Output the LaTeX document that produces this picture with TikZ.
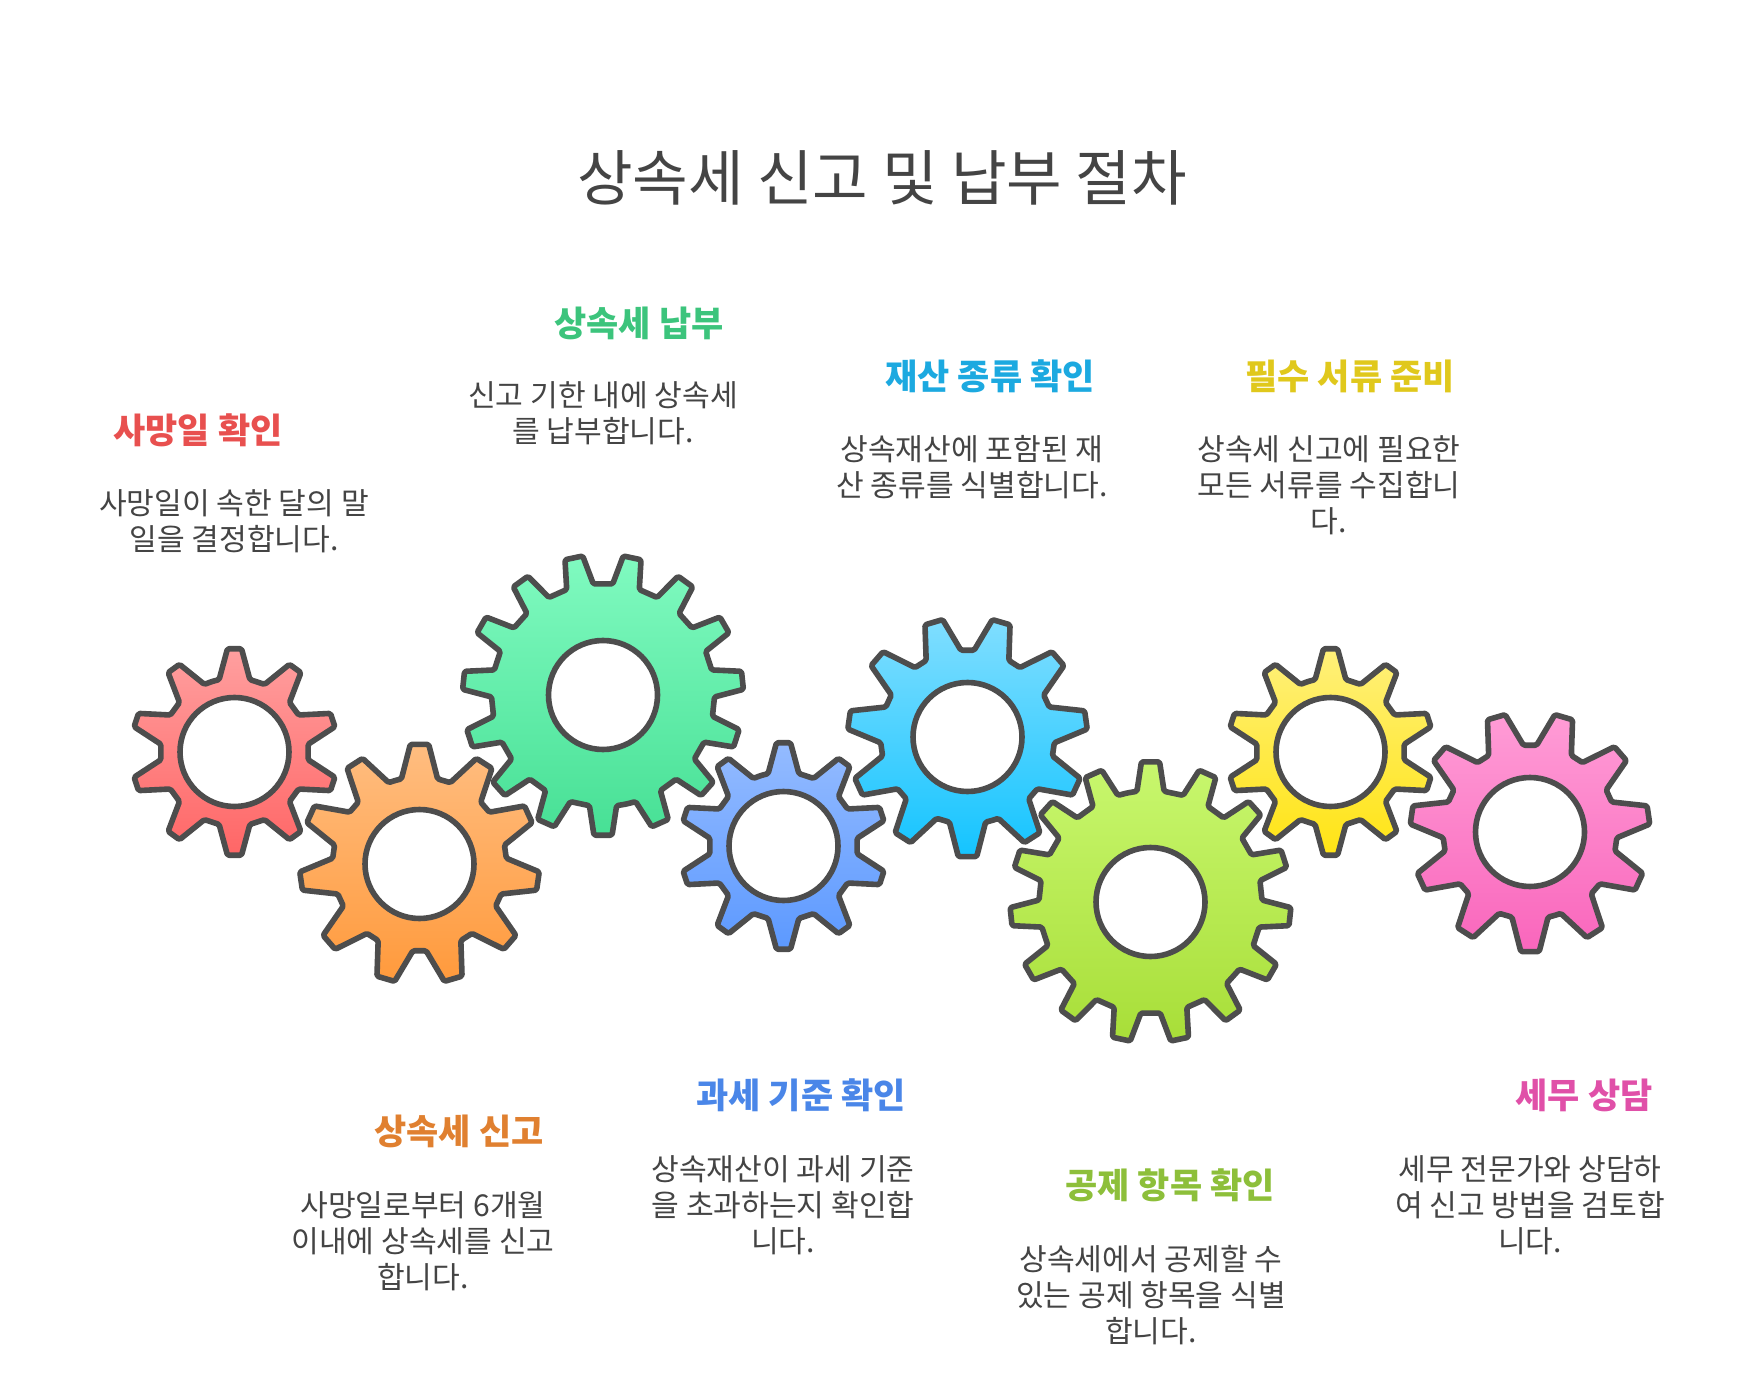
\documentclass[tikz,border=0pt]{standalone}
\usepackage{fontspec}
\setmainfont{Noto Sans CJK KR}
\usetikzlibrary{positioning}

\definecolor{gearline}{HTML}{4D4D4D}
\definecolor{redtop}{HTML}{FF9F9F}
\definecolor{redbot}{HTML}{FF6666}
\definecolor{orangetop}{HTML}{FFBD80}
\definecolor{orangebot}{HTML}{FF9A3C}
\definecolor{greentop}{HTML}{80FAC0}
\definecolor{greenbot}{HTML}{47E095}
\definecolor{bluetop}{HTML}{94BBFF}
\definecolor{bluebot}{HTML}{5C99FF}
\definecolor{cyantop}{HTML}{80DEFF}
\definecolor{cyanbot}{HTML}{14C4FF}
\definecolor{limetop}{HTML}{C8F76E}
\definecolor{limebot}{HTML}{A8DE38}
\definecolor{yellowtop}{HTML}{FFF07A}
\definecolor{yellowbot}{HTML}{FFE414}
\definecolor{pinktop}{HTML}{FF9CD6}
\definecolor{pinkbot}{HTML}{F966BC}
\definecolor{titlegray}{HTML}{444444}
\definecolor{redhead}{HTML}{E8504F}
\definecolor{orangehead}{HTML}{E08030}
\definecolor{greenhead}{HTML}{3CC47C}
\definecolor{bluehead}{HTML}{4A86E8}
\definecolor{cyanhead}{HTML}{1CA9E0}
\definecolor{limehead}{HTML}{8DBF3A}
\definecolor{yellowhead}{HTML}{E0C81C}
\definecolor{pinkhead}{HTML}{E050A8}

\tikzset{
	gearedge/.style={draw=gearline, line width=2.8pt, rounded corners=0.8pt, line join=round},
	headtext/.style={font=\fontsize{17.5}{21}\selectfont\bfseries, inner sep=0pt},
	bodytext/.style={font=\fontsize{15.06}{18}\selectfont, text=titlegray, align=center, inner sep=0pt},
}

\newcommand{\gear}[9]{%
	\draw[gearedge, top color=#9top, bottom color=#9bot, shift={(#1,#2)}]
		({#8-180/#3}:#5)
		\foreach \i [evaluate=\i as \a using #8+(\i-1)*360/#3] in {1,...,#3} {
			-- ({\a-#7}:#5) -- ({\a-#6}:#4) -- ({\a+#6}:#4) -- ({\a+#7}:#5)
		} -- cycle;
	\draw[gearedge, fill=white] (#1,#2) circle (54.5);
}

\begin{document}
\begin{tikzpicture}[x=0.5pt, y=-0.5pt]
	\useasboundingbox (0,0) rectangle (1764,1400);

	\gear{234.5}{752}{10}{103.5}{74}{3.9}{12}{-90}{red}
	\gear{419.5}{864}{11}{120}{87}{4.4}{12}{-90}{orange}
	\gear{603}{695}{15}{140.5}{111.5}{3.7}{7}{90}{green}
	\gear{783.5}{846}{10}{103.5}{74}{3.9}{12}{-90}{blue}
	\gear{967.5}{737}{11}{120}{87}{4.4}{12}{90}{cyan}
	\gear{1150.5}{902}{15}{140.5}{111.5}{3.7}{7}{-90}{lime}
	\gear{1330.5}{752}{10}{103.5}{74}{3.9}{12}{-90}{yellow}
	\gear{1530}{832}{11}{120}{87}{4.4}{12}{90}{pink}

	\node[font=\fontsize{30.2}{36}\selectfont, text=titlegray, inner sep=0pt] (title) at (882,178) {상속세 신고 및 납부 절차};

	\node[headtext, text=redhead] (head1) at (198,430) {사망일 확인};
	\node[bodytext] (body1) at (234,521) {사망일이 속한 달의 말\\일을 결정합니다.};
	\node[headtext, text=orangehead] (head2) at (459,1131) {상속세 신고};
	\node[bodytext] (body2) at (423,1241) {사망일로부터 6개월\\이내에 상속세를 신고\\합니다.};
	\node[headtext, text=greenhead] (head3) at (639,323) {상속세 납부};
	\node[bodytext] (body3) at (603,413) {신고 기한 내에 상속세\\를 납부합니다.};
	\node[headtext, text=bluehead] (head4) at (801,1095) {과세 기준 확인};
	\node[bodytext] (body4) at (783,1205) {상속재산이 과세 기준\\을 초과하는지 확인합\\니다.};
	\node[headtext, text=cyanhead] (head5) at (990,376) {재산 종류 확인};
	\node[bodytext] (body5) at (972,467) {상속재산에 포함된 재\\산 종류를 식별합니다.};
	\node[headtext, text=limehead] (head6) at (1170,1185) {공제 항목 확인};
	\node[bodytext] (body6) at (1151,1295) {상속세에서 공제할 수\\있는 공제 항목을 식별\\합니다.};
	\node[headtext, text=yellowhead] (head7) at (1350,376) {필수 서류 준비};
	\node[bodytext] (body7) at (1329,485) {상속세 신고에 필요한\\모든 서류를 수집합니\\다.};
	\node[headtext, text=pinkhead] (head8) at (1584,1095) {세무 상담};
	\node[bodytext] (body8) at (1530,1205) {세무 전문가와 상담하\\여 신고 방법을 검토합\\니다.};
\end{tikzpicture}
\end{document}
